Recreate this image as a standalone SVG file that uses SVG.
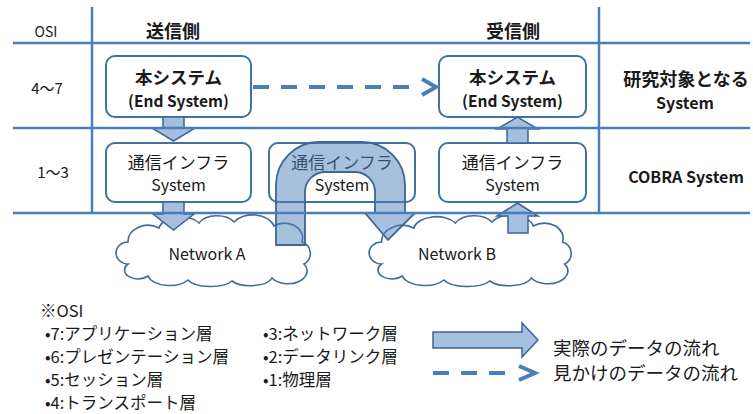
<svg xmlns="http://www.w3.org/2000/svg" width="753" height="414" viewBox="0 0 753 414">
<defs>
<style>
text{font-family:"Noto Sans CJK JP","Liberation Sans",sans-serif;fill:#1a1a1a;text-anchor:middle;dominant-baseline:central}
.b{font-weight:bold}
.grid{stroke:#4A7EBB;stroke-width:2.5;fill:none}
.box{fill:#fff;stroke:#41719C;stroke-width:2}
.blk{fill:#A7BFDE;stroke:#3B6696;stroke-width:1.5;stroke-linejoin:miter}
.u{fill:#4F81BD;fill-opacity:0.5;stroke:#3B6696;stroke-width:1.8}
.dash{stroke:#4A7EBB;stroke-width:4;stroke-dasharray:16 12;fill:none}
.chev{stroke:#4A7EBB;stroke-width:4;fill:none;stroke-linejoin:miter}
.cloud{fill:#fff;stroke:#3F6A9C;stroke-width:1.6}
.leg{text-anchor:start;font-size:16.5px}
.leg2{text-anchor:start;font-size:18.5px}
</style>
<path id="cloudShape" d="M14,46 A12,11 0 0 1 14,24 A20,16 0 0 1 45,10 A22,14 0 0 1 85,5 A20,13 0 0 1 120,4 A22,15 0 0 1 160,8 A18,15 0 0 1 188,24 A12,12 0 0 1 190,46 A18,12 0 0 1 158,60 A22,10 0 0 1 118,63 A24,10 0 0 1 74,62 A22,12 0 0 1 34,58 A12,8 0 0 1 14,46 Z"/>
</defs>

<g id="clouds">
<g id="networkA">
<use href="#cloudShape" class="cloud" transform="translate(114,218)"/>
<text x="207" y="253" font-size="16">Network A</text>
</g>
<g id="networkB">
<use href="#cloudShape" class="cloud" transform="translate(367,218) scale(1.04,1)"/>
<text x="457" y="253" font-size="16">Network B</text>
</g>
</g>

<g id="senderEnd">
<rect class="box" x="106" y="56" width="145" height="61" rx="9"/>
<text class="b" x="178.5" y="76" font-size="17.5">本システム</text>
<text class="b" x="178.5" y="100" font-size="15.5">(End System)</text>
</g>
<g id="receiverEnd">
<rect class="box" x="439" y="56" width="147" height="61" rx="9"/>
<text class="b" x="512.5" y="76" font-size="17.5">本システム</text>
<text class="b" x="512.5" y="100" font-size="15.5">(End System)</text>
</g>
<g id="senderInfra">
<rect class="box" x="106" y="143" width="145" height="59" rx="9"/>
<text x="178.5" y="161" font-size="17">通信インフラ</text>
<text x="178.5" y="184" font-size="16">System</text>
</g>
<g id="middleInfra">
<rect class="box" x="269" y="143" width="146" height="59" rx="9"/>
<text x="342" y="161" font-size="17">通信インフラ</text>
<text x="342" y="184" font-size="16">System</text>
</g>
<g id="receiverInfra">
<rect class="box" x="439" y="143" width="147" height="59" rx="9"/>
<text x="512.5" y="161" font-size="17">通信インフラ</text>
<text x="512.5" y="184" font-size="16">System</text>
</g>

<g id="connectors">
<polygon class="blk" points="163,117 184,117 184,128 195,128 173.5,141 152,128 163,128"/>
<polygon class="blk" points="163,202 184,202 184,214 194,214 173.5,230 153,214 163,214"/>
<polygon class="blk" points="507,143 507,129 497,129 517.5,117 538,129 528,129 528,143"/>
<polygon class="blk" points="508,233 508,216 497,216 517.5,203 538,216 528,216 528,233"/>
<path class="u" d="M276,245 V185 A43,43 0 0 1 319,142 H362 A43,43 0 0 1 405,185 V213 H415 L388,240 L365,213 H375 V192 A20,20 0 0 0 355,172 H325 A20,20 0 0 0 305,192 V245 Z"/>
<line class="dash" x1="253" y1="87" x2="420" y2="87"/>
<polyline class="chev" points="422,79 436,87 422,95"/>
</g>

<g id="grid">
<line class="grid" x1="13" y1="43" x2="750" y2="43"/>
<line class="grid" x1="13" y1="128" x2="750" y2="128"/>
<line class="grid" x1="13" y1="213" x2="750" y2="213"/>
<line class="grid" x1="92" y1="7" x2="92" y2="213"/>
<line class="grid" x1="599" y1="7" x2="599" y2="213"/>
</g>

<g id="headers">
<text x="46" y="31" font-size="14">OSI</text>
<text class="b" x="173" y="30" font-size="18">送信側</text>
<text class="b" x="513" y="30" font-size="18">受信側</text>
<text x="47" y="87" font-size="15">4〜7</text>
<text x="53" y="171" font-size="15">1〜3</text>
<text class="b" x="686" y="78" font-size="18">研究対象となる</text>
<text class="b" x="685" y="102" font-size="16">System</text>
<text class="b" x="686" y="176" font-size="16">COBRA System</text>
</g>

<g id="legend">
<text class="leg" x="40" y="310">※OSI</text>
<text class="leg" x="45" y="333">•7:アプリケーション層</text>
<text class="leg" x="45" y="356">•6:プレゼンテーション層</text>
<text class="leg" x="45" y="379">•5:セッション層</text>
<text class="leg" x="45" y="402">•4:トランスポート層</text>
<text class="leg" x="263" y="333">•3:ネットワーク層</text>
<text class="leg" x="263" y="356">•2:データリンク層</text>
<text class="leg" x="263" y="379">•1:物理層</text>
<polygon class="blk" points="433,332 522,332 522,323 538,340 522,357 522,348 433,348"/>
<line class="dash" x1="433" y1="373" x2="516" y2="373" stroke-dasharray="17 13"/>
<polyline class="chev" points="519,366 535,373 519,380"/>
<text class="leg2" x="553" y="347">実際のデータの流れ</text>
<text class="leg2" x="553" y="372">見かけのデータの流れ</text>
</g>
</svg>
